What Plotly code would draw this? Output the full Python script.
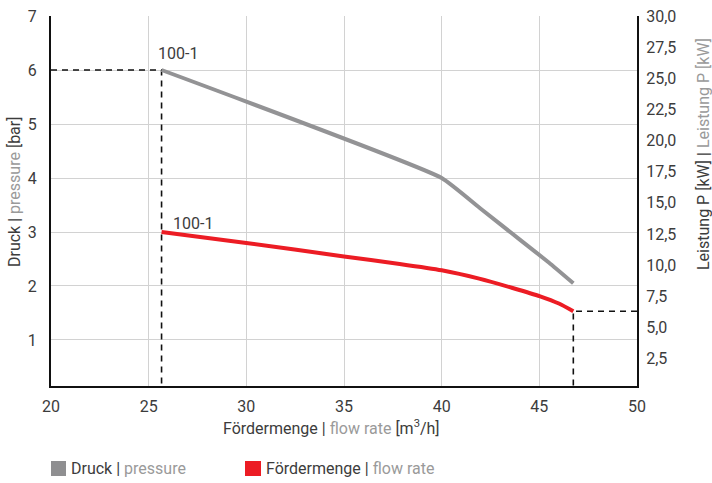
import plotly.graph_objects as go

# ---- data ----
flow_pressure = [25.66, 40.0, 42.0, 44.0, 45.5, 46.74]
pressure_bar = [6.0, 4.0, 3.43, 2.86, 2.43, 2.05]

flow_power = [25.66, 30.0, 35.0, 37.85, 40.0, 41.92, 43.63, 45.04, 46.0, 46.74]
power_kw = [12.66, 11.78, 10.70, 10.10, 9.59, 8.92, 8.17, 7.5, 6.92, 6.3]

x_ticks = [20, 25, 30, 35, 40, 45, 50]
y_left_ticks = [1, 2, 3, 4, 5, 6, 7]
y_right_ticks = [2.5, 5.0, 7.5, 10.0, 12.5, 15.0, 17.5, 20.0, 22.5, 25.0, 27.5, 30.0]
y_right_labels = ["2,5", "5,0", "7,5", "10,0", "12,5", "15,0", "17,5", "20,0",
                  "22,5", "25,0", "27,5", "30,0"]
curve_label = "100-1"

X_RANGE = [20, 50]
Y_RANGE = [0.148, 7]
Y2_RANGE = [0.3, 30]

DARK = "#3c3c3c"
LIGHT = "#9a9a9a"
GRAY_LINE = "#939395"
RED = "#ec1c24"
FONT = "Roboto"

fig = go.Figure()

# dashed reference lines (from operating points)
dash_style = dict(color="#111111", width=1.6, dash="6px,5px")
fig.add_trace(go.Scatter(x=[X_RANGE[0], flow_pressure[0], flow_pressure[0]],
                         y=[pressure_bar[0], pressure_bar[0], Y_RANGE[0]],
                         mode="lines", line=dash_style, hoverinfo="skip", showlegend=False))
fig.add_trace(go.Scatter(x=[X_RANGE[1], flow_power[-1], flow_power[-1]],
                         y=[power_kw[-1], power_kw[-1], Y2_RANGE[0]],
                         yaxis="y2", mode="lines", line=dash_style, hoverinfo="skip",
                         showlegend=False))

# curves
fig.add_trace(go.Scatter(x=flow_pressure, y=pressure_bar, mode="lines",
                         line=dict(color=GRAY_LINE, width=4, shape="spline", smoothing=0.4),
                         showlegend=False, name="Druck"))
fig.add_trace(go.Scatter(x=flow_power, y=power_kw, yaxis="y2", mode="lines",
                         line=dict(color=RED, width=4, shape="spline", smoothing=0.6),
                         showlegend=False, name="Fördermenge"))

ann = []
ann.append(dict(x=flow_pressure[0], y=pressure_bar[0], xref="x", yref="y",
                text=curve_label, showarrow=False, xanchor="left", yanchor="bottom",
                xshift=-6, yshift=5, font=dict(family=FONT, size=16, color=DARK)))
ann.append(dict(x=flow_power[0], y=power_kw[0], xref="x", yref="y2",
                text=curve_label, showarrow=False, xanchor="left", yanchor="bottom",
                xshift=9, yshift=-3, font=dict(family=FONT, size=16, color=DARK)))

pix = []
# axis titles (pixel positions, converted below)
pix.append(dict(x=14, y=192, text=f"Druck | <span style='color:{LIGHT}'>pressure</span> [bar]",
                textangle=-90, xanchor="center", yanchor="middle"))
pix.append(dict(x=331, y=427,
                text=f"Fördermenge | <span style='color:{LIGHT}'>flow rate</span> [m<sup>3</sup>/h]",
                xanchor="center", yanchor="middle"))
pix.append(dict(x=703, y=154,
                text=f"Leistung P [kW] | <span style='color:{LIGHT}'>Leistung P [kW]</span>",
                textangle=-90, xanchor="center", yanchor="middle"))
# legend
pix.append(dict(x=69, y=468, text=f"Druck | <span style='color:{LIGHT}'>pressure</span>",
                xanchor="left", yanchor="middle"))
pix.append(dict(x=264, y=468, text=f"Fördermenge | <span style='color:{LIGHT}'>flow rate</span>",
                xanchor="left", yanchor="middle"))

W, H = 712, 483
L, R, T, B = 51, 75, 16, 97
pw, ph = W - L - R, H - T - B
for a in pix:
    a.update(xref="paper", yref="paper", showarrow=False,
             x=(a["x"] - L) / pw, y=(H - B - a["y"]) / ph,
             font=dict(family=FONT, size=16, color=DARK))
    ann.append(a)

shapes = [
    dict(type="rect", xref="paper", yref="paper",
         x0=(51 - L) / pw, x1=(66 - L) / pw, y0=(H - B - 476) / ph, y1=(H - B - 461) / ph,
         fillcolor="#8f8f91", line=dict(width=0)),
    dict(type="rect", xref="paper", yref="paper",
         x0=(245 - L) / pw, x1=(261 - L) / pw, y0=(H - B - 476) / ph, y1=(H - B - 461) / ph,
         fillcolor=RED, line=dict(width=0)),
]

axis_common = dict(zeroline=False, showline=True, linecolor="#111111", linewidth=2,
                   automargin=False, tickcolor="rgba(0,0,0,0)",
                   tickfont=dict(family=FONT, size=16, color=DARK))

fig.update_layout(
    width=W, height=H,
    margin=dict(l=L, r=R, t=T, b=B, pad=0, autoexpand=False),
    paper_bgcolor="white", plot_bgcolor="white",
    font=dict(family=FONT, size=16, color=DARK),
    showlegend=False,
    annotations=ann,
    shapes=shapes,
    xaxis=dict(range=X_RANGE, tickvals=x_ticks, showgrid=True, gridcolor="#d2d2d2",
               gridwidth=1, ticks="outside", ticklen=5, **axis_common),
    yaxis=dict(range=Y_RANGE, tickvals=y_left_ticks, showgrid=True, gridcolor="#d2d2d2",
               gridwidth=1, ticks="outside", ticklen=9, **axis_common),
    yaxis2=dict(range=Y2_RANGE, overlaying="y", side="right", tickvals=y_right_ticks,
                ticktext=y_right_labels, showgrid=False, ticks="outside", ticklen=4,
                **axis_common),
)

fig.write_html("out.html", config={"displayModeBar": False},
               post_script="document.body.style.margin='0';document.body.style.padding='0';")
